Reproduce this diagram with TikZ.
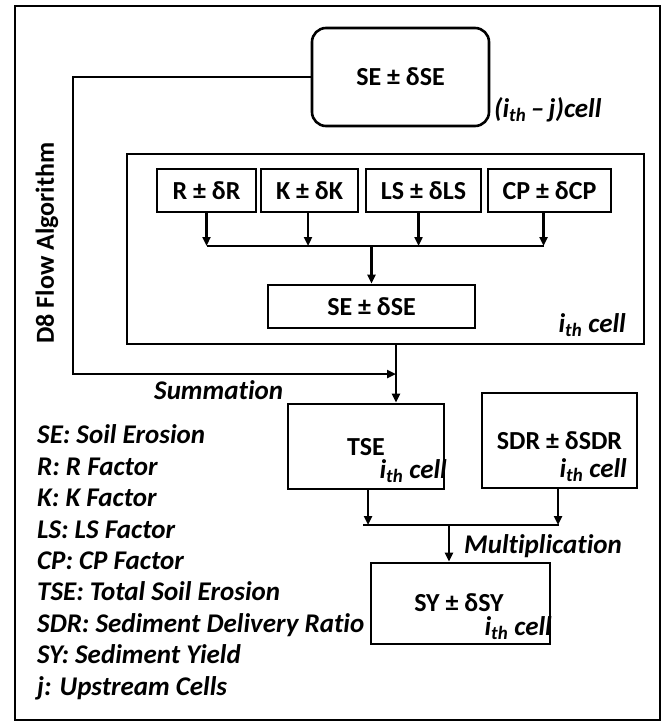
\documentclass[tikz,border=0pt]{standalone}
\usepackage{fontspec}
\setmainfont{Carlito}[Ligatures=NoCommon]
\usetikzlibrary{arrows.meta}
\tikzset{
  txt/.style={font=\fontsize{26}{30}\selectfont\bfseries},
  ital/.style={font=\fontsize{27}{31}\selectfont\bfseries\itshape, inner sep=0pt},
  bx/.style n args={2}{draw, line width=2.6pt, minimum width=#1pt, minimum height=#2pt,
    inner sep=0pt, text depth=0pt, txt},
  ln/.style={line width=2.6pt},
  arr/.style={ln, -{Triangle[length=9pt,width=8pt]}},
  frame/.style={line width=2.8pt}
}
\begin{document}
\begin{tikzpicture}[x=1pt,y=-1pt]
\useasboundingbox (0,0) rectangle (662,723);
\draw[frame] (15,6) rectangle (660,720);

% upstream cell
\node[bx={177}{98}, rounded corners=14pt] (top) at (400.5,77) {SE ± δSE};
\node[ital, anchor=base west] (topl) at (494,117) {(i\textsubscript{th}\,–\,j)cell};

% i-th cell container
\node[bx={517}{190}] (cell) at (385.5,249) {};
\node[ital, anchor=base east] (celll) at (626,332) {i\textsubscript{th} cell};

\node[bx={99}{43}] (R) at (206.5,190.5) {R ± δR};
\node[bx={97}{43}] (K) at (309.5,190.5) {K ± δK};
\node[bx={115}{43}] (LS) at (423.5,190.5) {LS ± δLS};
\node[bx={123}{43}] (CP) at (549.5,190.5) {CP ± δCP};
\node[bx={207}{43}] (se) at (371.5,306.5) {SE ± δSE};

\coordinate (colL) at (207,246);
\coordinate (colR) at (543.5,246);
\draw[arr] (R.south) -- (R.south |- colL);
\draw[arr] ([xshift=-1.5pt]K.south) -- ([xshift=-1.5pt]K.south |- colL);
\draw[arr] ([xshift=-5pt]LS.south) -- ([xshift=-5pt]LS.south |- colL);
\draw[arr] ([xshift=-6pt]CP.south) -- ([xshift=-6pt]CP.south |- colL);
\draw[ln] (colL) -- (colR);
\draw[arr] (se.north |- colL) -- (se.north);

% D8 flow
\node[txt, rotate=90] (d8) at (47,243) {D8 Flow Algorithm};
\coordinate (fb) at (73,374);
\coordinate (sumJ) at (396,374);
\draw[arr] (top.west) -| (fb) -- (sumJ);
\node[ital, anchor=base west] (sum) at (154,399) {Summation};

% TSE and SDR
\node[bx={156}{85}] (tse) at (366,446.5) {TSE};
\node[ital, anchor=base east] (tsel) at (447,478) {i\textsubscript{th} cell};
\node[bx={155}{95}] (sdr) at (559.5,440.5) {SDR ± δSDR};
\node[ital, anchor=base east] (sdrl) at (627,477) {i\textsubscript{th} cell};
\draw[arr] (sumJ |- cell.south) -- (sumJ |- tse.north);

\coordinate (c2L) at (363,525);
\coordinate (c2R) at (559,525);
\coordinate (mj) at (449,525);
\draw[arr] ([xshift=2pt]tse.south) -- ([xshift=2pt]tse.south |- c2L);
\draw[arr] ([xshift=-1.5pt]sdr.south) -- ([xshift=-1.5pt]sdr.south |- c2L);
\draw[ln] (c2L) -- (c2R);

% SY
\node[bx={179}{81}] (sy) at (460.5,603.5) {};
\node[txt, inner sep=0pt] (syt) at (459,603) {SY ± δSY};
\node[ital, anchor=base east] (syl) at (552,635) {i\textsubscript{th} cell};
\draw[arr] (mj) -- (mj |- sy.north);
\node[ital, anchor=base west] (mul) at (464,553) {Multiplication};

% legend
\foreach \t [count=\i from 0] in {SE: Soil Erosion, R: R Factor, K: K Factor,
  LS: LS Factor, CP: CP Factor, TSE: Total Soil Erosion,
  SDR: Sediment Delivery Ratio, SY: Sediment Yield, j: Upstream Cells}
  \node[ital, anchor=base west] (leg\i) at (37,443.7+31.45*\i) {\t};
\end{tikzpicture}
\end{document}
